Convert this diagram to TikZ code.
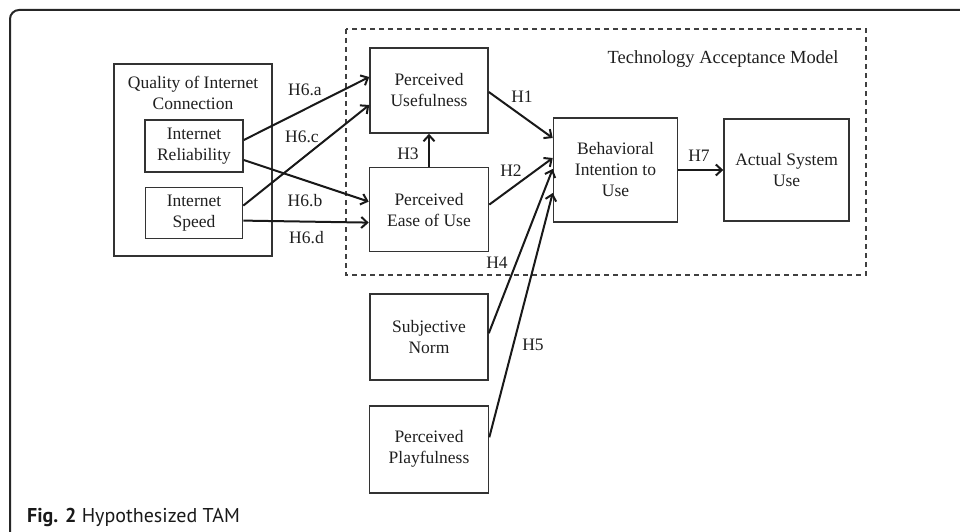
\documentclass[tikz,border=0pt]{standalone}
\usepackage{fontspec}
\setmainfont{Liberation Serif}
\newfontfamily\captionfont{PT Sans}
\usepackage{tikz}
\usetikzlibrary{positioning,calc,arrows.meta}
\tikzstyle{construct} = [draw=black!80, line width=1.6pt, inner sep=0pt, align=center, text=black!88, font=\fontsize{17.5}{21}\selectfont]
\tikzstyle{hyp} = [inner sep=0pt, align=center, text=black!88, font=\fontsize{17.5}{21}\selectfont]
\tikzstyle{line} = [draw=black!90, line width=2pt, -{Straight Barb[length=6pt,width=11pt]}]

\begin{document}
\begin{tikzpicture}[x=1pt,y=-1pt,node distance=33pt]
\useasboundingbox (0,0) rectangle (960,532);
\draw[black!85, line width=2pt, rounded corners=9pt] (10,532) -- (10,10) -- (960,10);
\draw[black!75, line width=1.5pt, dash pattern=on 5pt off 4pt] (346,29) rectangle (866,275);
\node[hyp, font=\fontsize{18.5}{22}\selectfont] (tamtitle) at (723,59) {Technology Acceptance Model};

\node[construct, minimum width=158pt, minimum height=192pt] (quality) at (193,160) {};
\node[hyp] (qualitytitle) at (193,92.5) {Quality of Internet\\Connection};
\node[construct, minimum width=98pt, minimum height=52pt] (reliability) at (194,146) {Internet\\Reliability};
\node[construct, minimum width=97pt, minimum height=51pt, below=14pt of reliability] (speed) {Internet\\Speed};

\node[construct, minimum width=118pt, minimum height=85pt] (usefulness) at (429,90.5) {Perceived\\Usefulness};
\node[construct, minimum width=119pt, minimum height=84pt, below=of usefulness] (easeofuse) {Perceived\\Ease of Use};
\node[construct, minimum width=124pt, minimum height=104pt] (intention) at (615.5,170) {Behavioral\\Intention to\\Use};
\node[construct, minimum width=125pt, minimum height=102pt, right=45pt of intention] (actualuse) {Actual System\\Use};
\node[construct, minimum width=118pt, minimum height=86pt, below=41pt of easeofuse] (norm) {Subjective\\Norm};
\node[construct, minimum width=119pt, minimum height=87pt, below=24pt of norm] (playfulness) {Perceived\\Playfulness};

\draw[line] ([yshift=6pt]reliability.east) -- ([yshift=13.5pt]usefulness.west);
\draw[line] ([yshift=-14pt]reliability.east) -- ([yshift=8pt]easeofuse.west);
\draw[line] ([yshift=7.5pt]speed.east) -- ([yshift=-14.5pt]usefulness.west);
\draw[line] ([yshift=-7.5pt]speed.east) -- ([yshift=-13pt]easeofuse.west);
\draw[line] ([yshift=-1.5pt]usefulness.east) -- ([yshift=32pt]intention.west);
\draw[line] ([yshift=5pt]easeofuse.east) -- ([yshift=12pt]intention.west);
\draw[line] (easeofuse.north) -- (usefulness.south);
\draw[line] ([yshift=4pt]norm.east) -- ([yshift=1pt]intention.west);
\draw[line] ([yshift=12pt]playfulness.east) -- ([yshift=-23pt]intention.west);
\draw[line] (intention.east) -- (actualuse.west |- intention.east);

\node[hyp] (h6a) at (305,90) {H6.a};
\node[hyp] (h6c) at (302,137) {H6.c};
\node[hyp] (h6b) at (305,201) {H6.b};
\node[hyp] (h6d) at (306.5,238) {H6.d};
\node[hyp] (h1) at (522,97) {H1};
\node[hyp] (h2) at (511,171) {H2};
\node[hyp] (h3) at (408,154) {H3};
\node[hyp] (h4) at (497,263) {H4};
\node[hyp] (h5) at (533,345) {H5};
\node[hyp] (h7) at (699,156) {H7};

\node[anchor=west, inner sep=0pt, text=black!90, font=\captionfont\fontsize{20}{24}\selectfont] (caption) at (27,517) {\textbf{Fig. 2} Hypothesized TAM};
\end{tikzpicture}
\end{document}
